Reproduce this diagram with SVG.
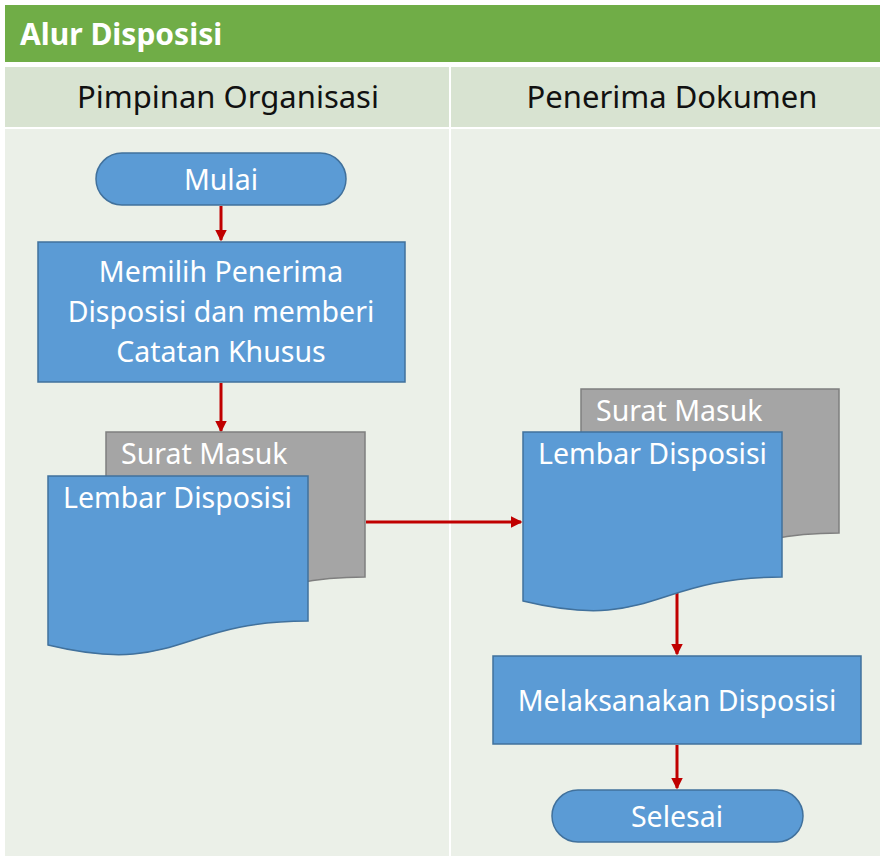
<svg xmlns="http://www.w3.org/2000/svg" width="880" height="856" viewBox="0 0 880 856">
<style>
.t{font-family:"Noto Sans","Open Sans","Liberation Sans",sans-serif;fill:#fff;font-size:28.5px}
.h{font-family:"Noto Sans","Open Sans","Liberation Sans",sans-serif;fill:#111;font-size:31px;text-anchor:middle}
.blue{fill:#5B9BD5;stroke:#41719C;stroke-width:1.5}
.gray{fill:#A5A5A5;stroke:#7F7F7F;stroke-width:1.5}
.c{stroke:#C00000;stroke-width:3;fill:none;marker-end:url(#ah)}
.m{text-anchor:middle}
</style>
<defs>
<marker id="ah" markerWidth="4" markerHeight="4" refX="3.5" refY="2" orient="auto" markerUnits="strokeWidth">
<path d="M0,0 L4,2 L0,4 Z" fill="#C00000"/>
</marker>
</defs>
<rect x="0" y="0" width="880" height="856" fill="#fff"/>
<rect x="5" y="5" width="875" height="57" fill="#70AD47"/>
<text x="20" y="45" class="t" style="font-weight:bold;font-size:30px">Alur Disposisi</text>
<rect x="5" y="67" width="444" height="60" fill="#D8E3D1"/>
<rect x="451" y="67" width="429" height="60" fill="#D8E3D1"/>
<rect x="5" y="129" width="444" height="727" fill="#EBF0E8"/>
<rect x="451" y="129" width="429" height="727" fill="#EBF0E8"/>
<text x="228" y="108" class="h">Pimpinan Organisasi</text>
<text x="672" y="108" class="h">Penerima Dokumen</text>

<g id="connectors">
<line x1="221" y1="206" x2="221" y2="240" class="c"/>
<line x1="221" y1="383" x2="221" y2="431" class="c"/>
<line x1="366" y1="522" x2="521" y2="522" class="c"/>
<line x1="677" y1="591" x2="677" y2="654" class="c"/>
<line x1="677" y1="745" x2="677" y2="788" class="c"/>
</g>

<g id="mulai">
<rect x="96" y="153" width="250" height="52" rx="26" class="blue"/>
<text x="221" y="190" class="t m">Mulai</text>
</g>

<g id="memilih">
<rect x="38" y="242" width="367" height="140" class="blue"/>
<text x="221" y="282" class="t m">Memilih Penerima</text>
<text x="221" y="322" class="t m">Disposisi dan memberi</text>
<text x="221" y="362" class="t m">Catatan Khusus</text>
</g>

<g id="dok-kiri">
<path d="M106,432 H365 V577 C235.5,577 235.5,632.5 106,601 Z" class="gray"/>
<text x="121" y="464" class="t">Surat Masuk</text>
<path d="M48,476 H308 V621 C178,621 178,676.5 48,645 Z" class="blue"/>
<text x="63" y="508" class="t">Lembar Disposisi</text>
</g>

<g id="dok-kanan">
<path d="M581,389 H839 V533 C710,533 710,588.5 581,557 Z" class="gray"/>
<text x="596" y="421" class="t">Surat Masuk</text>
<path d="M523,432 H782 V577 C652.5,577 652.5,632.5 523,601 Z" class="blue"/>
<text x="538" y="464" class="t">Lembar Disposisi</text>
</g>

<g id="melaksanakan">
<rect x="493" y="656" width="368" height="88" class="blue"/>
<text x="677" y="711" class="t m">Melaksanakan Disposisi</text>
</g>

<g id="selesai">
<rect x="552" y="790" width="251" height="52" rx="26" class="blue"/>
<text x="677" y="827" class="t m">Selesai</text>
</g>
</svg>
